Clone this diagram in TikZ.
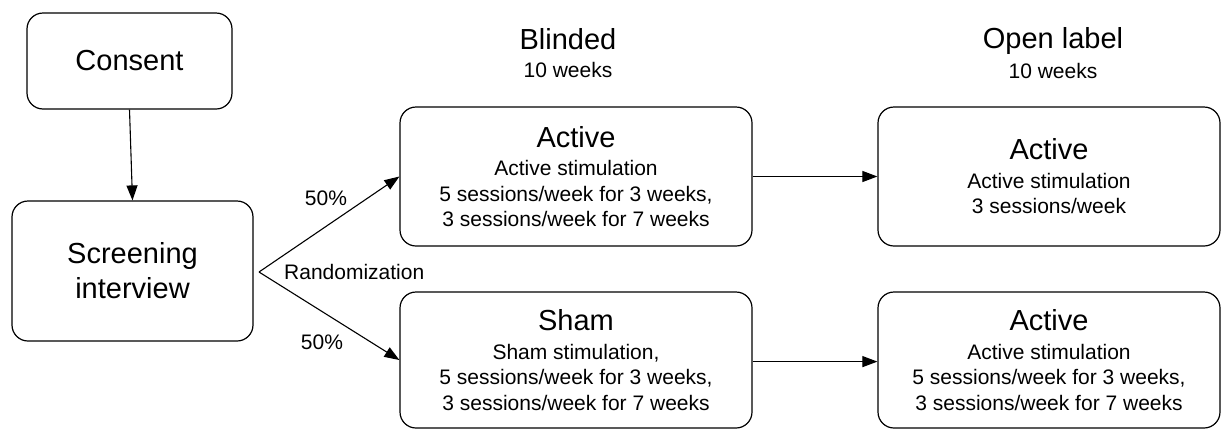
\documentclass[tikz,border=0pt]{standalone}
\usepackage{fontspec}
\setmainfont{Liberation Sans}
\usetikzlibrary{arrows.meta}
\begin{document}
\begin{tikzpicture}[x=1pt,y=-1pt,
  box/.style={draw, line width=1.2pt, rounded corners=16pt, align=center, inner sep=0pt},
  arr/.style={line width=1.1pt, -{Triangle[length=15pt,width=11pt]}},
  big/.style={font=\fontsize{29}{35}\selectfont},
  small/.style={font=\fontsize{21}{25.5}\selectfont},
  title/.style={font=\fontsize{29}{32}\selectfont},
]
\useasboundingbox (0,0) rectangle (1221,429);
\node[box, big, minimum width=205pt, minimum height=96pt] (consent) at (129.5,61) {Consent};
\node[box, big, minimum width=241pt, minimum height=140pt] (screen) at (132.5,271) {Screening\\interview};
\node[box, small, minimum width=352pt, minimum height=139pt] (actb) at (576,176.5)
  {{\fontsize{29}{30}\selectfont Active}\\[3pt]Active stimulation\\5 sessions/week for 3 weeks,\\3 sessions/week for 7 weeks};
\node[box, small, minimum width=352pt, minimum height=136pt] (sham) at (576,360)
  {{\fontsize{29}{30}\selectfont Sham}\\[3pt]Sham stimulation,\\5 sessions/week for 3 weeks,\\3 sessions/week for 7 weeks};
\node[box, small, minimum width=342pt, minimum height=139pt] (acto) at (1049,176.5)
  {{\fontsize{29}{30}\selectfont Active}\\[3pt]Active stimulation\\3 sessions/week};
\node[box, small, minimum width=342pt, minimum height=136pt] (acto2) at (1049,360)
  {{\fontsize{29}{30}\selectfont Active}\\[3pt]Active stimulation\\5 sessions/week for 3 weeks,\\3 sessions/week for 7 weeks};
\node[title] (blt) at (568,39) {Blinded};
\node[small] (blw) at (568,70) {10 weeks};
\node[title] (opt) at (1053,41) {Open label};
\node[small] (opw) at (1053,71) {10 weeks};
\coordinate (split) at (259,272);
\node[small] (p1) at (326,198) {50\%};
\node[small] (p2) at (322,342) {50\%};
\node[small, anchor=west, inner sep=0pt] (rand) at (284,272) {Randomization};
\draw[arr] (consent.south) -- (screen.north);
\draw[arr] (split) -- (actb.west);
\draw[arr] (split) -- (sham.west);
\draw[arr] (actb.east) -- (acto.west);
\draw[arr] (sham.east |- 0,361.6) -- (acto2.west |- 0,361.6);
\end{tikzpicture}
\end{document}
